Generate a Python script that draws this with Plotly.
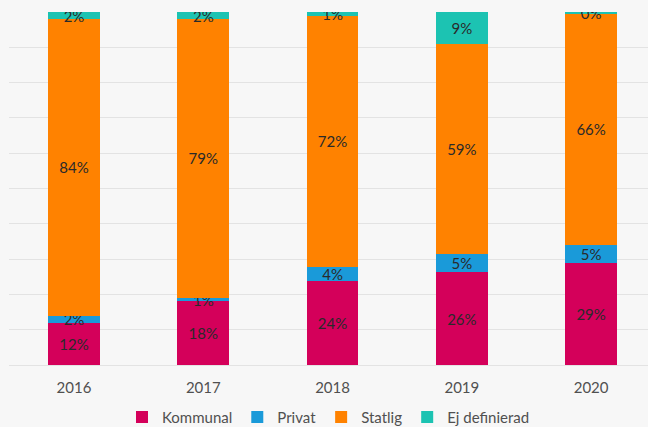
import plotly.graph_objects as go

years = ["2016", "2017", "2018", "2019", "2020"]
kommunal = [12, 18, 24, 26, 29]
privat = [2, 1, 4, 5, 5]
statlig = [84, 79, 72, 59, 66]
ej_definierad = [2, 2, 1, 9, 0.4]

series = [
    ("Kommunal", kommunal, "#d4005a"),
    ("Privat", privat, "#1a9ad9"),
    ("Statlig", statlig, "#ff8200"),
    ("Ej definierad", ej_definierad, "#1cc3b2"),
]

FONT = "Lato, 'Open Sans', sans-serif"
POST_SCRIPT = 'document.body.style.margin = "0";'

fig = go.Figure()
for name, values, color in series:
    fig.add_trace(go.Bar(
        x=years, y=values, name=name,
        marker_color=color, marker_line_width=0,
        text=[f"{round(v)}%" for v in values],
        textposition="inside", insidetextanchor="middle",
        textangle=0, constraintext="none",
        textfont=dict(family=FONT, size=15, color="#2a2a2a"),
        hoverinfo="x+y+name",
    ))

fig.update_layout(
    width=648, height=427,
    barmode="stack", barnorm="percent", bargap=0.6,
    paper_bgcolor="#f7f7f7", plot_bgcolor="#f7f7f7",
    margin=dict(l=9, r=0, t=12, b=62, autoexpand=False),
    font=dict(family=FONT, size=15, color="#505050"),
    showlegend=True,
    legend=dict(orientation="h", x=0.5, xanchor="center", y=-0.148, yanchor="middle",
                font=dict(size=15, color="#505050"), traceorder="normal", itemwidth=30),
    xaxis=dict(type="category", range=[-0.503, 4.44], showgrid=False, automargin=False,
               ticks="outside", ticklen=9, tickcolor="rgba(0,0,0,0)",
               tickfont=dict(size=15, color="#505050")),
    yaxis=dict(range=[0, 100], dtick=10, showgrid=True, gridcolor="#e3e3e3", gridwidth=1,
               showticklabels=False, zeroline=True, zerolinecolor="#e3e3e3", zerolinewidth=1),
)

fig.write_html("out.html", post_script=[POST_SCRIPT], config={"displayModeBar": False})
